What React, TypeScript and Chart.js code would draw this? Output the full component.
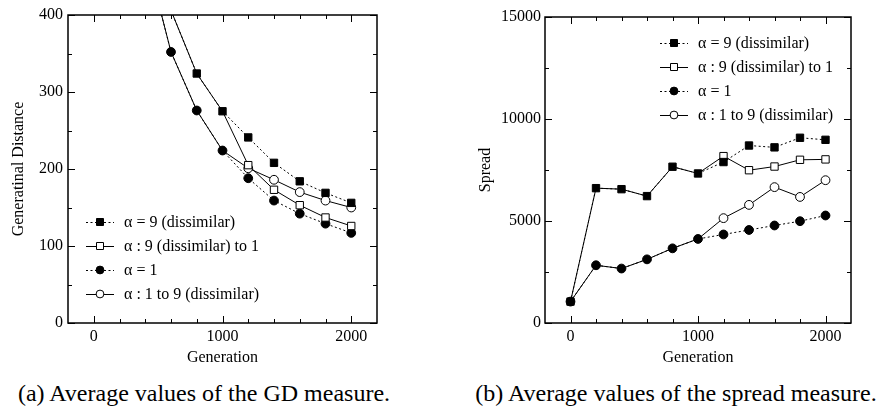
import React, { useEffect, useRef } from 'react';
import { Chart, registerables } from 'chart.js';

Chart.register(...registerables);

// ---------------- data ----------------
const generations = [0, 200, 400, 600, 800, 1000, 1200, 1400, 1600, 1800, 2000];
const seriesLabels = [
  'α = 9 (dissimilar)',
  'α : 9 (dissimilar) to 1',
  'α = 1',
  'α : 1 to 9 (dissimilar)',
];
const switchIndex = 5; // generation 1000: switched series share earlier points

// (a) Generational distance
const gdAlpha9 = [980, 720, 530, 406, 324, 275, 241, 208, 184, 169, 156];
const gdAlpha9to1 = [980, 720, 530, 406, 324, 275, 205, 173, 153, 137, 126];
const gdAlpha1 = [900, 640, 483, 352, 276, 224, 188, 159, 142, 129, 117];
const gdAlpha1to9 = [900, 640, 483, 352, 276, 224, 201, 186, 170, 159, 150];

// (b) Spread
const spAlpha9 = [1050, 6610, 6560, 6220, 7660, 7330, 7890, 8700, 8610, 9080, 8980];
const spAlpha9to1 = [1050, 6610, 6560, 6220, 7660, 7330, 8180, 7490, 7670, 8000, 8020];
const spAlpha1 = [1050, 2830, 2670, 3120, 3660, 4120, 4340, 4560, 4780, 4990, 5270];
const spAlpha1to9 = [1050, 2830, 2670, 3120, 3660, 4120, 5140, 5790, 6660, 6180, 7000];

const genTicks = [0, 1000, 2000];
const gdTicks = [0, 100, 200, 300, 400];
const spTicks = [0, 5000, 10000, 15000];

// ---------------- styling ----------------
const FONT = '"Liberation Serif", "Times New Roman", Times, serif';
const DOT = [2, 2.5];
const seriesStyles = [
  { pointStyle: 'rect', fill: '#000', dash: DOT },
  { pointStyle: 'rect', fill: '#fff', dash: [] as number[] },
  { pointStyle: 'circle', fill: '#000', dash: DOT },
  { pointStyle: 'circle', fill: '#fff', dash: [] as number[] },
];

type PanelCfg = {
  left: number;
  width: number;
  height: number;
  area: { left: number; top: number; right: number; bottom: number };
  series: number[][];
  yMax: number;
  yTicks: number[];
  yMinor: number;
  yTitle: string;
  yTitlePad: number;
  yTickPad: number;
  legend: { x: number; y: number };
};

const framePlugin = {
  id: 'frameAndLegend',
  afterDatasetsDraw(chart: any, _args: any, opts: any) {
    const { ctx, chartArea: a, scales } = chart;
    const xs = scales.x;
    const ys = scales.y;
    ctx.save();
    ctx.strokeStyle = '#000';
    ctx.lineWidth = 1;
    ctx.setLineDash([]);
    ctx.beginPath();
    for (let v = 0; v <= 2000; v += 200) {
      const px = Math.round(xs.getPixelForValue(v)) + 0.5;
      const len = v % 1000 === 0 ? 7 : 4;
      ctx.moveTo(px, a.bottom);
      ctx.lineTo(px, a.bottom - len);
      ctx.moveTo(px, a.top);
      ctx.lineTo(px, a.top + len);
    }
    for (let v = 0; v <= opts.yMax; v += opts.yMinor) {
      const py = Math.round(ys.getPixelForValue(v)) + 0.5;
      const len = v % (opts.yMinor * 2) === 0 ? 7 : 4;
      ctx.moveTo(a.left, py);
      ctx.lineTo(a.left + len, py);
      ctx.moveTo(a.right, py);
      ctx.lineTo(a.right - len, py);
    }
    ctx.stroke();
    ctx.lineWidth = 1.5;
    ctx.strokeRect(a.left, a.top, a.right - a.left, a.bottom - a.top);

    // legend
    const lx = opts.legendX;
    let ly = opts.legendY;
    ctx.font = `16px ${FONT}`;
    ctx.textBaseline = 'middle';
    ctx.textAlign = 'left';
    chart.data.datasets.forEach((ds: any, i: number) => {
      const st = seriesStyles[i];
      ctx.lineWidth = 1;
      ctx.setLineDash(st.dash);
      ctx.beginPath();
      ctx.moveTo(lx, ly + 0.5);
      ctx.lineTo(lx + 28, ly + 0.5);
      ctx.stroke();
      ctx.setLineDash([]);
      ctx.fillStyle = st.fill;
      ctx.beginPath();
      if (st.pointStyle === 'rect') {
        ctx.rect(lx + 14 - 3.5, ly - 3.5, 7, 7);
      } else {
        ctx.arc(lx + 14, ly, 3.9, 0, Math.PI * 2);
      }
      ctx.fill();
      ctx.stroke();
      ctx.fillStyle = '#000';
      ctx.fillText(ds.label, lx + 38, ly + 1);
      ly += 24;
    });
    ctx.restore();
  },
};

function makeConfig(cfg: PanelCfg): any {
  const tickFont = { family: FONT, size: 16 };
  const datasets = cfg.series.map((vals, i) => {
    const st = seriesStyles[i];
    const switched = i === 1 || i === 3;
    return {
      label: seriesLabels[i],
      data: generations.map((g, k) => ({ x: g, y: vals[k] })),
      borderColor: '#000',
      borderWidth: 1,
      borderDash: st.dash,
      pointStyle: st.pointStyle,
      pointBackgroundColor: st.fill,
      pointBorderColor: '#000',
      pointBorderWidth: 1,
      pointRadius: generations.map((_, k) =>
        switched && k <= switchIndex ? 0 : st.pointStyle === 'rect' ? 5.2 : 4.4
      ),
      tension: 0,
      fill: false,
    };
  });
  return {
    type: 'line',
    data: { datasets },
    options: {
      responsive: false,
      animation: false,
      devicePixelRatio: 1,
      layout: {
        padding: {
          left: 0,
          top: cfg.area.top,
          right: cfg.width - cfg.area.right,
          bottom: 0,
        },
      },
      plugins: {
        legend: { display: false },
        tooltip: { enabled: false },
        frameAndLegend: {
          yMax: cfg.yMax,
          yMinor: cfg.yMinor,
          legendX: cfg.legend.x,
          legendY: cfg.legend.y,
        },
      },
      scales: {
        x: {
          type: 'linear',
          min: -200,
          max: 2200,
          afterBuildTicks: (s: any) => {
            s.ticks = genTicks.map((v) => ({ value: v }));
          },
          afterFit: (s: any) => {
            s.height = cfg.height - cfg.area.bottom;
          },
          grid: { display: false, drawTicks: false },
          border: { display: false },
          ticks: {
            font: tickFont,
            color: '#000',
            padding: 4,
            maxRotation: 0,
            autoSkip: false,
            callback: (v: any) => String(v),
          },
          title: {
            display: true,
            text: 'Generation',
            font: tickFont,
            color: '#000',
            padding: { top: 0, bottom: 5 },
          },
        },
        y: {
          type: 'linear',
          min: 0,
          max: cfg.yMax,
          afterBuildTicks: (s: any) => {
            s.ticks = cfg.yTicks.map((v) => ({ value: v }));
          },
          afterFit: (s: any) => {
            s.width = cfg.area.left;
          },
          grid: { display: false, drawTicks: false },
          border: { display: false },
          ticks: {
            font: tickFont,
            color: '#000',
            padding: cfg.yTickPad,
            autoSkip: false,
            callback: (v: any) => String(v),
          },
          title: {
            display: true,
            text: cfg.yTitle,
            font: tickFont,
            color: '#000',
            padding: { top: cfg.yTitlePad, bottom: 0 },
          },
        },
      },
    },
    plugins: [framePlugin],
  };
}

function ChartPanel({ cfg }: { cfg: PanelCfg }) {
  const ref = useRef<HTMLCanvasElement>(null);
  useEffect(() => {
    if (!ref.current) return;
    const chart = new Chart(ref.current, makeConfig(cfg));
    return () => chart.destroy();
  }, []);
  return (
    <canvas
      ref={ref}
      width={cfg.width}
      height={cfg.height}
      style={{ position: 'absolute', left: cfg.left, top: 0, width: cfg.width, height: cfg.height }}
    />
  );
}

const gdPanel: PanelCfg = {
  left: 0,
  width: 440,
  height: 372,
  area: { left: 68, top: 15, right: 377, bottom: 323 },
  series: [gdAlpha9, gdAlpha9to1, gdAlpha1, gdAlpha1to9],
  yMax: 400,
  yTicks: gdTicks,
  yMinor: 50,
  yTitle: 'Generatinal Distance',
  yTitlePad: 9,
  yTickPad: 5,
  legend: { x: 86, y: 222 },
};

const spPanel: PanelCfg = {
  left: 440,
  width: 441,
  height: 372,
  area: { left: 105, top: 17, right: 411, bottom: 323 },
  series: [spAlpha9, spAlpha9to1, spAlpha1, spAlpha1to9],
  yMax: 15000,
  yTicks: spTicks,
  yMinor: 2500,
  yTitle: 'Spread',
  yTitlePad: 36,
  yTickPad: 4,
  legend: { x: 220, y: 43 },
};

const captionStyle: React.CSSProperties = {
  position: 'absolute',
  top: 381,
  fontFamily: FONT,
  fontSize: 24,
  lineHeight: '24px',
  whiteSpace: 'nowrap',
  color: '#000',
  transform: 'translateX(-50%)',
};

export default function App() {
  return (
    <div
      style={{
        position: 'fixed',
        left: 0,
        top: 0,
        width: 881,
        height: 410,
        background: '#fff',
        overflow: 'hidden',
      }}
    >
      <ChartPanel cfg={gdPanel} />
      <ChartPanel cfg={spPanel} />
      <div style={{ ...captionStyle, left: 204 }}>(a) Average values of the GD measure.</div>
      <div style={{ ...captionStyle, left: 676 }}>(b) Average values of the spread measure.</div>
    </div>
  );
}
